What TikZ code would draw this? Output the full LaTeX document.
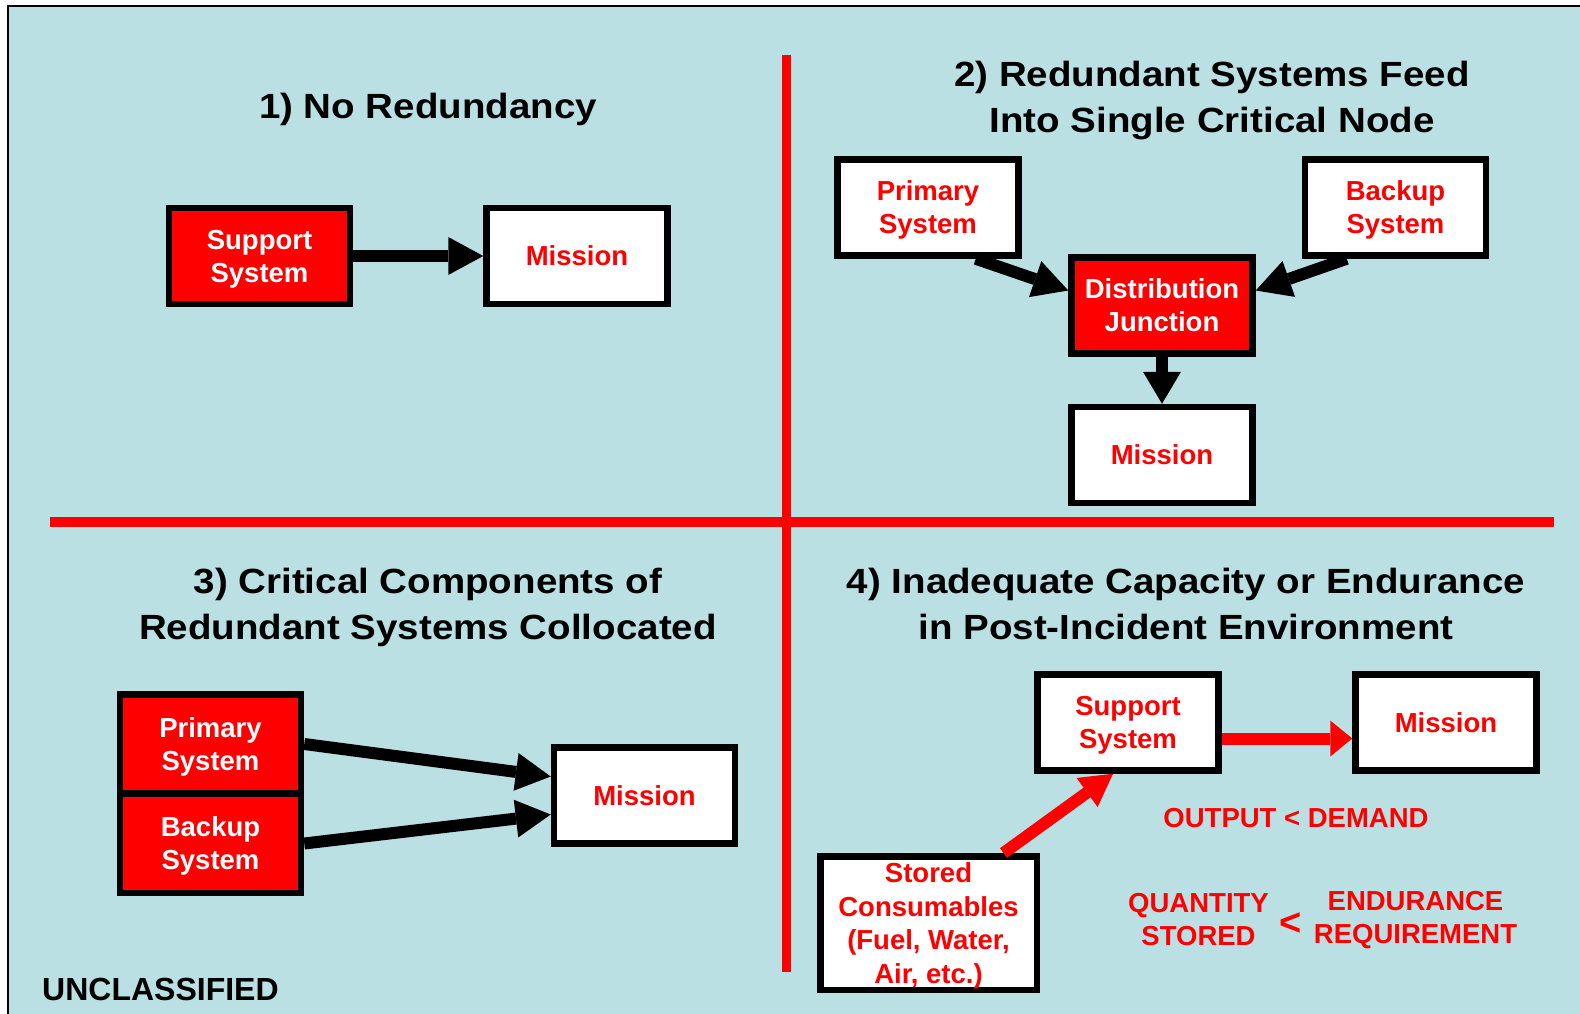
\documentclass[tikz,border=0pt]{standalone}
\usepackage{fontspec}
\setmainfont{Liberation Sans}
\newfontfamily\headfam{Liberation Sans}[FakeStretch=1.1]
\usepackage{tikz}
\usetikzlibrary{positioning,arrows.meta}

\definecolor{slidebg}{RGB}{186,224,227}
\definecolor{alarmred}{RGB}{255,0,0}

\newcommand{\boxtxt}{\bfseries\fontsize{27.5}{33}\selectfont}
\newcommand{\headtxt}{\headfam\bfseries\fontsize{35}{46}\selectfont}

\tikzset{
  redbox/.style={draw, line width=6.5pt, fill=alarmred, text=white, font=\boxtxt,
    align=center, minimum width=181pt, minimum height=96pt, inner sep=0pt,
    text depth=0pt},
  whitebox/.style={redbox, fill=white, text=alarmred},
  heading/.style={font=\headtxt, align=center},
  redtxt/.style={text=alarmred, font=\boxtxt, align=center, inner sep=0pt},
  blkarrow/.style={line width=12pt, -{Triangle[length=35pt,width=38pt,line width=0pt]}},
  redarrow/.style={draw=alarmred, line width=12pt, -{Triangle[length=22pt,width=36pt,line width=0pt]}},
  divider/.style={draw=alarmred, line width=9.5pt}
}

\begin{document}
\begin{tikzpicture}[x=1pt,y=-1pt]
            \useasboundingbox (0,0) rectangle (1580,1014);
            \fill[slidebg] (9,7) rectangle (1580,1014);
            \draw[line width=2.3pt] (8,1014) -- (8,6) -- (1580,6);
            % quadrant lines
            \draw[divider] (786.5,55) -- (786.5,972);
            \draw[divider] (50,522) -- (1554,522);

            % 1) no redundancy
            \node[heading] (t1) at (428,109) {1) No Redundancy};
            \node[redbox] (sup1) at (259.5,256) {Support\\System};
            \node[whitebox] (mis1)[right =130pt of sup1] {Mission};
            \draw[blkarrow] (sup1) -- (mis1);

            % 2) redundant systems, one junction
            \node[heading] (t2) at (1212,101) {2) Redundant Systems Feed\\Into Single Critical Node};
            \node[whitebox] (prim2) at (928,207.5) {Primary\\System};
            \node[whitebox] (back2) at (1395.5,207.5) {Backup\\System};
            \node[redbox] (junc) at (1162,305.5) {Distribution\\Junction};
            \node[whitebox] (mis2)[below =47pt of junc] {Mission};
            \draw[blkarrow] ([xshift=-46pt]prim2.south east) -- ([yshift=15pt]junc.west);
            \draw[blkarrow] ([xshift=45pt]back2.south west) -- ([yshift=15pt]junc.east);
            \draw[blkarrow, -{Triangle[length=32pt,width=38pt,line width=0pt]}] (junc) -- (mis2);

            % 3) collocated components
            \node[heading] (t3) at (428,607) {3) Critical Components of\\Redundant Systems Collocated};
            \node[redbox, minimum height=99pt] (prim3) at (210.5,744) {Primary\\System};
            \node[redbox, minimum height=99pt] (back3)[below =-6pt of prim3] {Backup\\System};
            \node[whitebox] (mis3) at (644.5,795.5) {Mission};
            \draw[blkarrow] (prim3.east) -- ([yshift=19pt]mis3.west);
            \draw[blkarrow] (back3.east) -- ([yshift=-19pt]mis3.west);

            % 4) capacity / endurance
            \node[heading] (t4) at (1186,604) {4) Inadequate Capacity or Endurance\\in Post-Incident Environment};
            \node[whitebox] (sup4) at (1128,722.5) {Support\\System};
            \node[whitebox] (mis4)[right =130.5pt of sup4] {Mission};
            \node[whitebox, font=\bfseries\fontsize{27.5}{33.5}\selectfont,
                minimum width=216.5pt, minimum height=133.5pt] (store) at (928.5,923)
                {Stored\\Consumables\\(Fuel, Water,\\Air, etc.)};
            \draw[redarrow] ([yshift=-16pt]sup4.east) -- ([yshift=-16pt]mis4.west);
            \draw[redarrow, -{Triangle[length=32pt,width=36pt,line width=0pt]}]
                ([xshift=75pt]store.north) -- ([xshift=-15pt]sup4.south);
            \node[redtxt] (outdem) at (1296,818) {OUTPUT < DEMAND};
            \node[redtxt] (qty) at (1198.5,920) {QUANTITY\\STORED};
            \node[redtxt, font=\bfseries\fontsize{38}{40}\selectfont] (less) at (1291,924) {<};
            \node[redtxt] (endur) at (1415.5,920) {ENDURANCE\\REQUIREMENT};

            \node[anchor=base west, inner sep=0pt, font=\bfseries\fontsize{32}{38}\selectfont] (uncl) at (42,1000) {UNCLASSIFIED};
        \end{tikzpicture}
\end{document}
